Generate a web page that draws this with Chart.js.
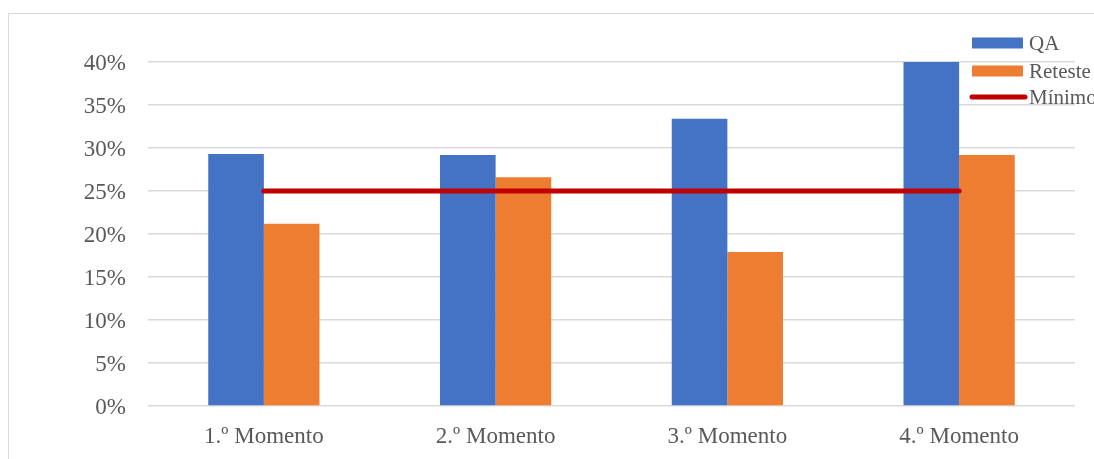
<!DOCTYPE html>
<html>
<head>
<meta charset="utf-8">
<script src="https://cdn.jsdelivr.net/npm/chart.js@4/dist/chart.umd.min.js"></script>
<style>
    html, body { margin: 0; padding: 0; background: #fff; }
    #wrap { width: 1094px; height: 459px; position: relative; }
</style>
</head>
<body>
<div id="wrap"><canvas id="chart"></canvas></div>
<script>
// Data
const categories = ['1.º Momento', '2.º Momento', '3.º Momento', '4.º Momento'];
const qaValues = [29.3, 29.2, 33.4, 40];
const retesteValues = [21.2, 26.6, 17.9, 29.2];
const minimoValues = [25, 25, 25, 25];
const yTickStep = 5;
const yMax = 40;

const FONT = '"Liberation Serif", "Times New Roman", serif';
const TEXT = '#595959';

// light grey frame round the whole chart
const framePlugin = {
    id: 'frame',
    beforeDraw(chart) {
        const ctx = chart.ctx;
        ctx.save();
        ctx.fillStyle = '#fff';
        ctx.fillRect(0, 0, chart.width, chart.height);
        ctx.strokeStyle = '#d9d9d9';
        ctx.lineWidth = 1;
        ctx.strokeRect(8.5, 13.5, 3000, 3000);
        ctx.restore();
    }
};

// legend drawn over the top right corner, like the original
const legendPlugin = {
    id: 'cornerLegend',
    afterDraw(chart) {
        const ctx = chart.ctx;
        const ds = chart.data.datasets;
        const rows = [43, 71, 97];
        ctx.save();
        ctx.font = '21px ' + FONT;
        ctx.textBaseline = 'middle';
        ds.forEach((d, i) => {
            const y = rows[i];
            if (d.type === 'line') {
                ctx.strokeStyle = d.borderColor;
                ctx.lineWidth = 5;
                ctx.lineCap = 'round';
                ctx.beginPath();
                ctx.moveTo(972, y);
                ctx.lineTo(1025, y);
                ctx.stroke();
            } else {
                ctx.fillStyle = d.backgroundColor;
                ctx.fillRect(972, y - 5.5, 51, 11);
            }
            ctx.fillStyle = TEXT;
            ctx.fillText(d.label, 1029, y + 1);
        });
        ctx.restore();
    }
};

new Chart(document.getElementById('chart'), {
    data: {
        labels: categories,
        datasets: [
            {
                type: 'bar',
                label: 'QA',
                data: qaValues,
                backgroundColor: '#4472c4',
                categoryPercentage: 0.48,
                barPercentage: 1.0,
                order: 1
            },
            {
                type: 'bar',
                label: 'Reteste',
                data: retesteValues,
                backgroundColor: '#ed7d31',
                categoryPercentage: 0.48,
                barPercentage: 1.0,
                order: 1
            },
            {
                type: 'line',
                label: 'Mínimo',
                data: minimoValues,
                borderColor: '#c00000',
                borderWidth: 5,
                borderCapStyle: 'round',
                pointRadius: 0,
                order: 0
            }
        ]
    },
    options: {
        responsive: true,
        maintainAspectRatio: false,
        animation: false,
        layout: {
            padding: { top: 62, right: 19, left: 0, bottom: 0 }
        },
        plugins: {
            legend: { display: false },
            tooltip: { enabled: false }
        },
        scales: {
            x: {
                offset: true,
                grid: { display: false },
                border: { display: false },
                ticks: {
                    color: TEXT,
                    padding: 9,
                    font: { size: 23, family: FONT },
                    maxRotation: 0
                },
                afterFit(scale) { scale.height = 53; }
            },
            y: {
                min: 0,
                max: yMax,
                grid: {
                    color: '#d9d9d9',
                    lineWidth: 1.5,
                    drawTicks: false
                },
                border: { display: false },
                ticks: {
                    stepSize: yTickStep,
                    color: TEXT,
                    padding: 22,
                    labelOffset: 2,
                    font: { size: 23, family: FONT },
                    callback: function (value) {
                        return value + '%';
                    }
                },
                afterFit(scale) { scale.width = 148; }
            }
        }
    },
    plugins: [framePlugin, legendPlugin]
});
</script>
</body>
</html>
